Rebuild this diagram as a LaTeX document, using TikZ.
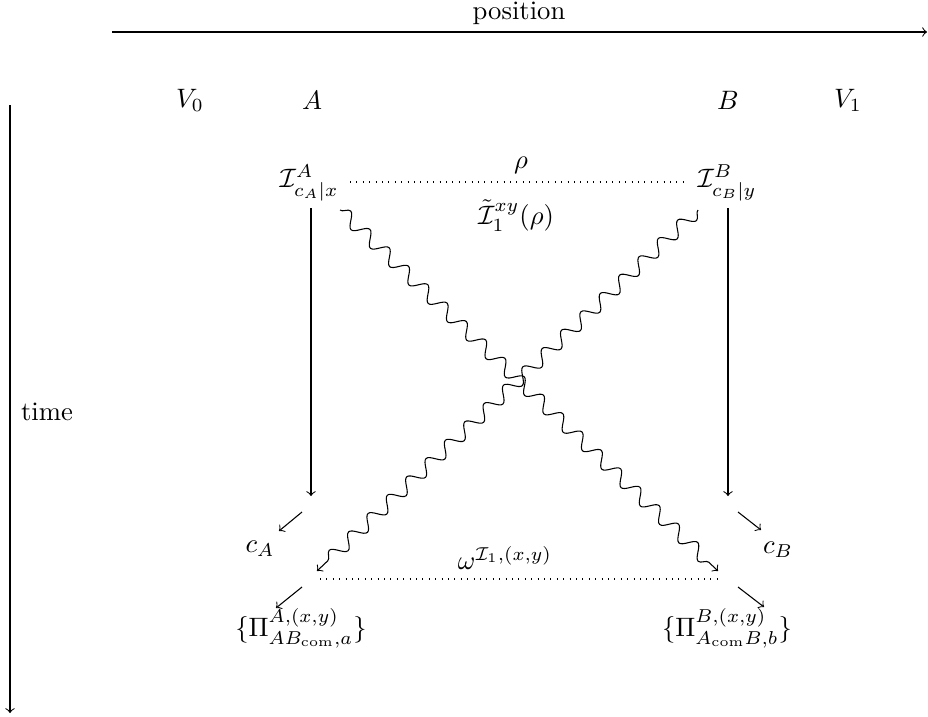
\documentclass[tikz,border=0pt]{standalone}
\usetikzlibrary{decorations.pathmorphing}
\begin{document}
\begin{tikzpicture}[x=0.375pt,y=-0.375pt,
  wavy/.style={->,decorate,decoration={snake,post length=1.5mm}},
  lbl/.style={inner sep=1pt}]
\useasboundingbox (0,0) rectangle (928,716);
% axes
\coordinate (p0) at (112,32);
\coordinate (p1) at (927,32);
\draw[->] (p0) -- (p1);
\node (pos) at (519,13) {position};
\coordinate (t0) at (10,105);
\coordinate (t1) at (10,713);
\draw[->] (t0) -- (t1);
\node (time) at (47,412) {time};
% region labels
\node (V0) at (190,100) {$V_0$};
\node (A) at (312,100) {$A$};
\node (B) at (728,100) {$B$};
\node (V1) at (848,100) {$V_1$};
% instruments
\node[lbl] (IA) at (309,183) {$\mathcal{I}^A_{c_A|x}$};
\node[lbl] (IB) at (727,183) {$\mathcal{I}^B_{c_B|y}$};
\node (rho) at (521,165) {$\rho$};
\node (It) at (516,216) {$\tilde{\mathcal{I}}^{xy}_1(\rho)$};
\coordinate (d0) at (350,182);
\coordinate (d1) at (688,182);
\draw[dotted] (d0) -- (d1);
% vertical arrows
\coordinate (a0) at (311,208);
\coordinate (a1) at (311,496);
\coordinate (b0) at (728,208);
\coordinate (b1) at (728,496);
\draw[->] (a0) -- (a1);
\draw[->] (b0) -- (b1);
% wavy lines
\coordinate (wa0) at (340,210);
\coordinate (wa1) at (718,571);
\coordinate (wb0) at (698,210);
\coordinate (wb1) at (317,571);
\draw[wavy] (wa0) -- (wa1);
\draw[wavy] (wb0) -- (wb1);
% outcomes
\node (cA) at (260,549) {$c_A$};
\node (cB) at (778,550) {$c_B$};
\coordinate (ca0) at (302,512);
\coordinate (ca1) at (279,531);
\coordinate (cb0) at (738,512);
\coordinate (cb1) at (761,530);
\draw[->] (ca0) -- (ca1);
\draw[->] (cb0) -- (cb1);
% bottom state
\coordinate (e0) at (320,579);
\coordinate (e1) at (718,579);
\draw[dotted] (e0) -- (e1);
\node (om) at (505,558) {$\omega^{\mathcal{I}_1,(x,y)}$};
\coordinate (pa0) at (302,587);
\coordinate (pa1) at (276,608);
\coordinate (pb0) at (738,587);
\coordinate (pb1) at (764,607);
\draw[->] (pa0) -- (pa1);
\draw[->] (pb0) -- (pb1);
\node (PA) at (301,628) {$\{\Pi^{A,(x,y)}_{AB_{\mathrm{com}},a}\}$};
\node (PB) at (727,628) {$\{\Pi^{B,(x,y)}_{A_{\mathrm{com}}B,b}\}$};
\end{tikzpicture}
\end{document}
